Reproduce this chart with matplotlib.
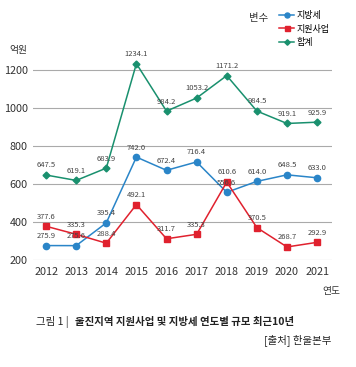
import matplotlib.pyplot as plt

plt.rcParams['font.family'] = ['Noto Sans CJK KR', 'DejaVu Sans']

years = [2012, 2013, 2014, 2015, 2016, 2017, 2018, 2019, 2020, 2021]
local_tax = [275.9, 275.6, 395.4, 742.0, 672.4, 716.4, 556.6, 614.0, 648.5, 633.0]
support = [377.6, 335.3, 288.4, 492.1, 311.7, 335.3, 610.6, 370.5, 268.7, 292.9]
total = [647.5, 619.1, 683.9, 1234.1, 984.2, 1053.2, 1171.2, 984.5, 919.1, 925.9]

series = [
    ('지방세', local_tax, '#2a85c8', 'o', 4.5),
    ('지원사업', support, '#e0212e', 's', 4.5),
    ('합계', total, '#19906e', 'D', 3.5),
]

fig = plt.figure(figsize=(3.56, 3.67), dpi=100)
ax = fig.add_axes([0.093, 0.2916, 0.84, 0.569])

for name, vals, color, marker, ms in series:
    ax.plot(years, vals, color=color, marker=marker, markersize=ms,
            linewidth=1.1, label=name, zorder=3)
    for x, v in zip(years, vals):
        ax.annotate(f'{v:.1f}', (x, v), xytext=(0, 4), textcoords='offset points',
                    ha='center', va='bottom', fontsize=5.5, color='#444444', zorder=4)

ax.set_xlim(2011.57, 2021.5)
ax.set_ylim(200, 1300)
ax.set_yticks([200, 400, 600, 800, 1000, 1200])
ax.set_xticks(years)
ax.grid(axis='y', color='#aaaaaa', linewidth=0.8)
ax.set_axisbelow(True)
for s in ax.spines.values():
    s.set_visible(False)
ax.tick_params(length=0, labelsize=7.8, colors='#333333')
ax.tick_params(axis='x', pad=5)
ax.tick_params(axis='y', pad=4)

fig.text(0.025, 0.855, '억원', fontsize=7, color='#333333')
fig.text(0.905, 0.2, '연도', fontsize=7, color='#333333')

handles, labels = ax.get_legend_handles_labels()
fig.legend(handles, labels, loc='upper left', bbox_to_anchor=(0.785, 0.97),
           frameon=False, fontsize=6.5, handlelength=1.6, handletextpad=0.3,
           labelspacing=0.5, borderaxespad=0, borderpad=0, markerscale=0.8)
fig.text(0.70, 0.952, '변수', fontsize=7.5, color='#333333', va='center')

fig.text(0.1, 0.123, '그림 1 | ', fontsize=7.5, color='#222222', va='center')
fig.text(0.212, 0.123, '울진지역 지원사업 및 지방세 연도별 규모 최근10년', fontsize=7.5,
         fontweight='bold', color='#222222', va='center')
fig.text(0.93, 0.074, '[출처] 한울본부', fontsize=7.5, color='#222222', ha='right',
         va='center')

fig.savefig('out.png', dpi=100)
